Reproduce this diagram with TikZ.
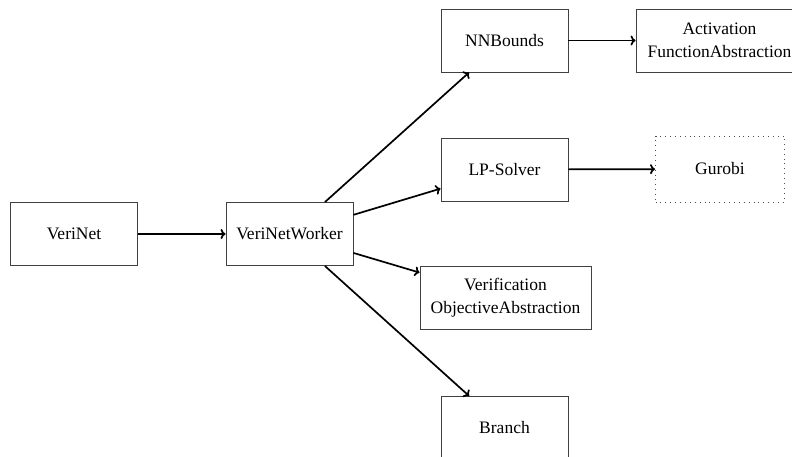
\documentclass[tikz,border=0pt]{standalone}
\usepackage{fontspec}
\setmainfont{Liberation Serif}
\usetikzlibrary{arrows.meta}
\begin{document}
\begin{tikzpicture}[x=1pt,y=-1pt,
  box/.style={draw=black!75,line width=0.9pt,minimum width=127pt,minimum height=63pt,align=center,font=\fontsize{17.5}{23}\selectfont,inner sep=4pt},
  dotbox/.style={box,draw=black!70,dash pattern=on 0.9pt off 4pt,line width=0.9pt},
  conn/.style={-{To[length=5pt,width=10pt]},line width=1.7pt,black}]
\useasboundingbox (0,0) rectangle (792,457);
\clip (0,0) rectangle (792,457);
\node[box] (vn) at (74,234) {VeriNet};
\node[box] (w) at (289.5,234) {VeriNetWorker};
\node[box] (nn) at (504.5,40.5) {NNBounds};
\node[box,minimum width=167pt] (act) at (719.5,40.5) {Activation\\FunctionAbstraction};
\node[box] (lp) at (504.5,169.5) {LP-Solver};
\node[dotbox,minimum width=129pt,minimum height=66pt] (gu) at (720,169) {Gurobi};
\node[box,minimum width=171pt] (vo) at (505.5,298) {Verification\\ObjectiveAbstraction};
\node[box] (br) at (504.5,428) {Branch};
\draw[conn] (vn) -- (w);
\draw[conn] (w) -- (nn);
\draw[conn] (w) -- (lp);
\draw[conn] (w) -- (vo);
\draw[conn] (w) -- (br);
\draw[conn] (nn) -- (act);
\draw[conn] (lp) -- (gu);
\end{tikzpicture}
\end{document}
